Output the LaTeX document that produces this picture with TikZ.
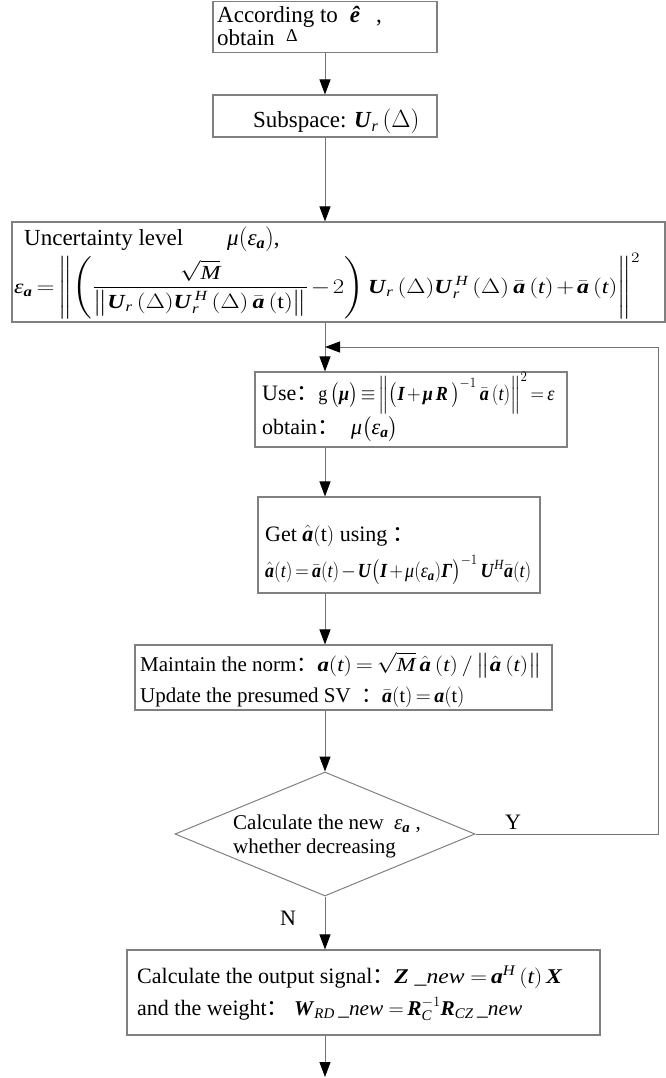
\documentclass[tikz,border=0pt]{standalone}
\usepackage{amsmath}
\usepackage{graphicx}
\usepackage{fontspec}
\setmainfont{Liberation Serif}
\newfontfamily\cjk{Noto Sans CJK SC}
\usetikzlibrary{arrows.meta,shapes.geometric}
\definecolor{boxgray}{gray}{0.5}
\definecolor{linegray}{gray}{0.45}
\newcommand{\B}[1]{\textbf{\textit{#1}}}
\newcommand{\cc}{{\cjk ：}}
\newcommand{\ee}{\textit{ε}}
\newcommand{\mmu}{\textit{μ}}
\newcommand{\ab}{\bar{\B{a}}}
\newcommand{\ah}{\hat{\B{a}}}
\newcommand{\Ur}{\B{U}_{\textit{r}}}
\newcommand{\fw}[2]{\resizebox{#1}{\height}{#2}}
\newcommand{\fs}[1]{\fontsize{#1}{#1}\selectfont}
\thickmuskip=3mu plus 2mu
\medmuskip=2mu plus 1mu
\begin{document}
\begin{tikzpicture}[x=1pt,y=-1pt,
  box/.style={draw=boxgray, line width=1.1pt, rectangle, inner sep=0pt},
  txt/.style={inner sep=0pt, anchor=base west, font=\fontsize{22}{26}\selectfont},
  conn/.style={draw=linegray, line width=1pt, -{Triangle[length=15pt,width=11pt,color=black,fill=black]}}]
\useasboundingbox (0,0) rectangle (666,1078);
% boxes
\node[box, minimum width=224pt, minimum height=51pt] (b1) at (325,27) {};
\node[box, minimum width=224pt, minimum height=42pt] (b2) at (325,116) {};
\node[box, minimum width=653pt, minimum height=100pt] (b3) at (338.5,272) {};
\node[box, minimum width=312pt, minimum height=75pt] (b4) at (411,409.5) {};
\node[box, minimum width=282pt, minimum height=96pt] (b5) at (399,545) {};
\node[box, minimum width=417pt, minimum height=65pt] (b6) at (343.5,677.5) {};
\node[draw=boxgray, line width=1pt, shape=diamond, minimum width=300pt, minimum height=124pt, inner sep=0pt, aspect=2.42] (d) at (325,834) {};
\node[box, minimum width=473pt, minimum height=85pt] (b7) at (363.5,992.5) {};
% texts
\node[txt, font=\fs{23}] (t1a) at (217,23) {According to\hspace{12pt}\B{ê}\hspace{16pt},};
\node[txt, font=\fs{23}] (t1b) at (217,46) {obtain\ \ \raisebox{4pt}{\fs{18}Δ}};
\node[txt, font=\fs{23}] (t2) at (253,128) {Subspace: $\Ur\,(\Delta)$};
\node[txt, font=\fs{23}] (t3a) at (24,245) {Uncertainty level\hspace{44pt}$\mmu(\ee_{\B{a}})$,};
\node[txt, anchor=west, font=\fs{20}] (t3b) at (14,286) {\fw{626pt}{$\ee_{\B{a}} = \left\|\left(\dfrac{\sqrt{\textit{M}}}{\left\|\Ur\,(\Delta)\Ur^{\;\textit{H}}\,(\Delta)\,\ab\,(\text{t})\right\|}-2\right)\Ur\,(\Delta)\Ur^{\;\textit{H}}\,(\Delta)\,\ab\,(\textit{t})+\ab\,(\textit{t})\right\|^{2}$}};
\node[txt] (t4a) at (262,400) {Use\cc{\fs{20}\fw{236pt}{g\,$\big(\B{μ}\big) \equiv \left\|\big(\B{I} + \B{μ}\,\B{R}\,\big)^{-1}\,\ab\,(\textit{t})\right\|^{2} = \ee$}}};
\node[txt] (t4b) at (262,434) {obtain\cc\hspace{12pt}$\mmu\big(\ee_{\B{a}}\big)$};
\node[txt] (t5a) at (265,541) {Get $\ah(\text{t})$ using \cc};
\node[txt, font=\fs{20}] (t5b) at (265,577) {\fw{266pt}{$\ah(\textit{t}) = \ab(\textit{t}) - \B{U}\big(\B{I} + \mmu(\ee_{\B{a}})\B{Γ}\big)^{-1}\,\B{U}^{\textit{H}}\ab(\textit{t})$}};
\node[txt, font=\fs{21}] (t6a) at (140,671) {Maintain the norm\cc{\fs{20}\fw{224pt}{$\B{a}(\textit{t}) = \sqrt{\textit{M}}\,\ah\,(\textit{t})\,/\,\big\|\ah\,(\textit{t})\big\|$}}};
\node[txt, font=\fs{21}] (t6b) at (140,702) {Update the presumed SV\ \ \cc{\fs{20}$\ab(\text{t}) = \B{a}(\text{t})$}};
\node[txt, font=\fs{21}] (dt1) at (233,829) {Calculate the new\ \ $\ee_{\B{a}}$\ ,};
\node[txt, font=\fs{21}] (dt2) at (233,853) {whether decreasing};
\node[txt] (t7a) at (137,983) {Calculate the output signal\cc{\fs{21}\fw{168pt}{$\B{Z}$\ \_\textit{new} $= \B{a}^{\textit{H}}\,(\textit{t})\,\B{X}$}}};
\node[txt] (t7b) at (137,1015) {and the weight\cc\ {\fs{21}\fw{228pt}{$\B{W}_{\textit{RD}}$\,\_\textit{new} $= \B{R}_{\textit{C}}^{-1}\B{R}_{\textit{CZ}}$\,\_\textit{new}}}};
\node[txt, anchor=base] (Y) at (513,829) {Y};
\node[txt, anchor=base] (N) at (288,925) {N};
% connector helpers
\coordinate (col) at (325,0);
\coordinate (lr1) at (658,834);
\coordinate (lr2) at (658,347);
\coordinate (lj) at (325,347);
\coordinate (end) at (325,1077);
% connectors
\draw[conn] (b1.south) -- (b2.north);
\draw[conn] (b2.south) -- (b2.south |- b3.north);
\draw[conn] (b3.south -| col) -- (b4.north -| col);
\draw[conn] (b4.south -| col) -- (b5.north -| col);
\draw[conn] (b5.south -| col) -- (b6.north -| col);
\draw[conn] (b6.south -| col) -- (d.north);
\draw[conn] (d.east) -- (lr1) -- (lr2) -- (lj);
\draw[conn] (d.south) -- (b7.north -| col);
\draw[conn] (b7.south -| col) -- (end);
\end{tikzpicture}
\end{document}
